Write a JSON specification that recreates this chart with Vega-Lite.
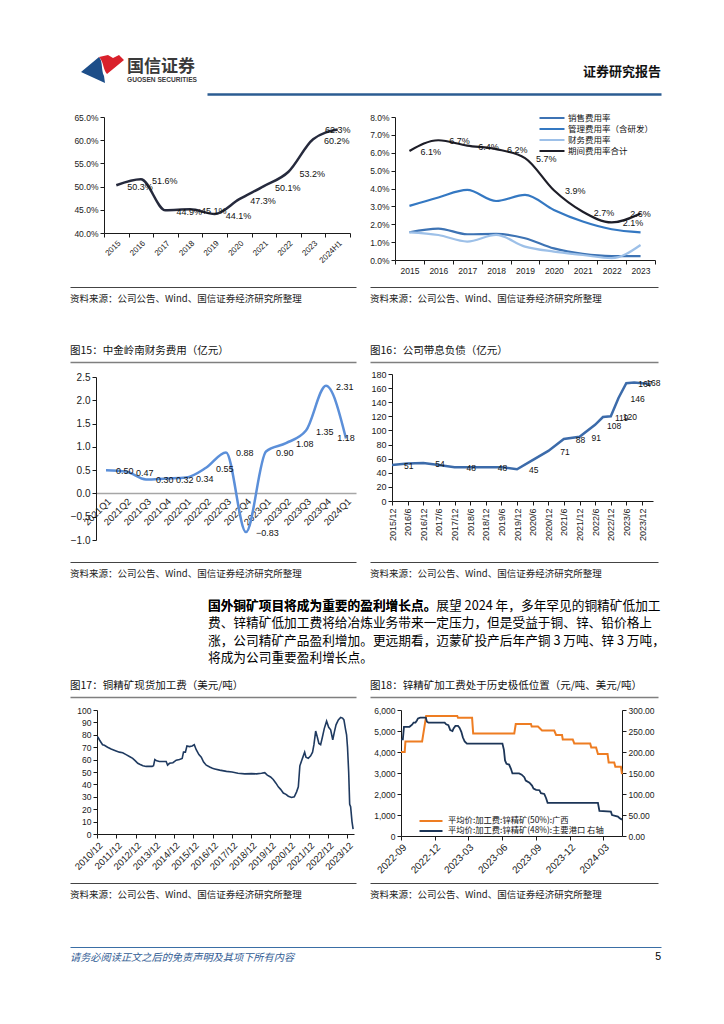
{
"$schema":"https://vega.github.io/schema/vega-lite/v6.json",
"background":"white",
"padding":{"left":67,"top":54,"right":8,"bottom":8},
"config":{
 "view":{"stroke":null},
 "font":"Liberation Sans",
 "axis":{"labelFont":"Liberation Sans","labelColor":"#1a1a1a","domainColor":"#1a1a1a","tickColor":"#1a1a1a","grid":false,"tickSize":4,"labelFontSize":8.5,"domainWidth":1,"labelOverlap":false,"labelFlush":false,"labelBound":false},
 "title":{"font":"Noto Sans CJK SC","fontWeight":"normal","color":"#111","frame":"group"},
 "legend":{"labelFont":"Noto Sans CJK SC"},
 "text":{"font":"Liberation Sans","color":"#111"}
},
"columns":2,
"align":"each",
"bounds":"flush",
"spacing":{"row":0,"column":14},
"resolve":{"scale":{"color":"independent","shape":"independent"},"legend":{"color":"independent","shape":"independent"}},
"concat":[
{"width":56,"height":40,
 "title":{"text":"国信证券","subtitle":"GUOSEN SECURITIES","orient":"top","anchor":"start","dx":57,"dy":32,"fontSize":17,"fontWeight":"bold","color":"#3a3a3a","subtitleFont":"Liberation Sans","subtitleFontSize":6.6,"subtitleFontWeight":"bold","subtitleColor":"#3a3a3a","subtitlePadding":1,"offset":1},
 "layer":[
  {"data":{"values":[{"p":"蓝"},{"p":"红"}]},"mark":{"type":"point","filled":true,"size":1600,"opacity":1,"strokeWidth":0},
   "encoding":{"shape":{"field":"p","type":"nominal","scale":{"domain":["蓝","红"],"range":["M-0.85,-0.1L0.05,-0.85C0.25,-0.65,0.15,-0.2,0.3,0.1L0.35,0.45Z","M0.05,-0.85L0.5,-0.95L0.75,-0.8L1.05,-0.95L1.3,-0.7L0.45,0C0.25,-0.2,0.3,-0.6,0.05,-0.85Z"]},"legend":null},
    "color":{"field":"p","type":"nominal","scale":{"domain":["蓝","红"],"range":["#1D4E89","#D9212C"]},"legend":null}}},
  {"data":{"values":[{"v":0}]},"mark":{"type":"point","opacity":0},
   "encoding":{"x":{"field":"v","type":"quantitative","scale":{"domain":[0,1],"range":[137,591]},"axis":{"title":null,"labels":false,"ticks":false,"domainColor":"#2B5C92","domainWidth":2.5}}}}
 ]},
{"width":291,"height":40,"data":{"values":[]},"mark":"point",
 "title":{"text":"证券研究报告","orient":"top","anchor":"end","dy":28,"fontSize":13,"fontWeight":"bold","color":"#111","offset":3}},

{"width":1,"height":23,"data":{"values":[]},"mark":"point"},
{"width":1,"height":23,"data":{"values":[]},"mark":"point"},

{"width":280,"height":116,
 "data":{"values":[{"year":"2015","v":0.503},{"year":"2016","v":0.516},{"year":"2017","v":0.449},{"year":"2018","v":0.451},{"year":"2019","v":0.441},{"year":"2020","v":0.473},{"year":"2021","v":0.501},{"year":"2022","v":0.532},{"year":"2023","v":0.602},{"year":"2024H1","v":0.623}]},
 "encoding":{
  "x":{"field":"year","type":"ordinal","sort":null,"bandPosition":0.5,"scale":{"type":"band","paddingInner":0,"paddingOuter":0,"range":[34,280]},"axis":{"title":null,"labelAngle":-45,"tickBand":"extent","labelFontSize":8,"labelPadding":2}},
  "y":{"field":"v","type":"quantitative","scale":{"domain":[0.4,0.65],"nice":false,"zero":false},"axis":{"title":null,"offset":-34,"values":[0.4,0.45,0.5,0.55,0.6,0.65],"format":".1%","labelFontSize":8.5}}},
 "layer":[
  {"mark":{"type":"line","interpolate":"monotone","color":"#262A3D","strokeWidth":2.5}},
  {"transform":[{"filter":"datum.year != '2024H1'"}],"mark":{"type":"text","align":"left","dx":11,"dy":2,"fontSize":9},"encoding":{"text":{"field":"v","format":".1%"}}},
  {"transform":[{"filter":"datum.year == '2024H1'"}],"mark":{"type":"text","align":"center","fontSize":9},"encoding":{"text":{"field":"v","format":".1%"}}}
 ]},
{"width":285,"height":143,
 "data":{"values":[
  {"year":"2015","s":"销售费用率","v":0.0155},{"year":"2015","s":"管理费用率（含研发）","v":0.0303},{"year":"2015","s":"财务费用率","v":0.0155},{"year":"2015","s":"期间费用率合计","v":0.061},
  {"year":"2016","s":"销售费用率","v":0.0176},{"year":"2016","s":"管理费用率（含研发）","v":0.035},{"year":"2016","s":"财务费用率","v":0.014},{"year":"2016","s":"期间费用率合计","v":0.067},
  {"year":"2017","s":"销售费用率","v":0.0144},{"year":"2017","s":"管理费用率（含研发）","v":0.0392},{"year":"2017","s":"财务费用率","v":0.0103},{"year":"2017","s":"期间费用率合计","v":0.064},
  {"year":"2018","s":"销售费用率","v":0.0146},{"year":"2018","s":"管理费用率（含研发）","v":0.033},{"year":"2018","s":"财务费用率","v":0.014},{"year":"2018","s":"期间费用率合计","v":0.062},
  {"year":"2019","s":"销售费用率","v":0.0122},{"year":"2019","s":"管理费用率（含研发）","v":0.0364},{"year":"2019","s":"财务费用率","v":0.0075},{"year":"2019","s":"期间费用率合计","v":0.057},
  {"year":"2020","s":"销售费用率","v":0.0065},{"year":"2020","s":"管理费用率（含研发）","v":0.028},{"year":"2020","s":"财务费用率","v":0.0047},{"year":"2020","s":"期间费用率合计","v":0.039},
  {"year":"2021","s":"销售费用率","v":0.0034},{"year":"2021","s":"管理费用率（含研发）","v":0.0215},{"year":"2021","s":"财务费用率","v":0.0028},{"year":"2021","s":"期间费用率合计","v":0.027},
  {"year":"2022","s":"销售费用率","v":0.0022},{"year":"2022","s":"管理费用率（含研发）","v":0.0172},{"year":"2022","s":"财务费用率","v":0.001},{"year":"2022","s":"期间费用率合计","v":0.021},
  {"year":"2023","s":"销售费用率","v":0.0022},{"year":"2023","s":"管理费用率（含研发）","v":0.0155},{"year":"2023","s":"财务费用率","v":0.0084},{"year":"2023","s":"期间费用率合计","v":0.026}]},
 "encoding":{
  "x":{"field":"year","type":"ordinal","sort":null,"bandPosition":0.5,"scale":{"type":"band","paddingInner":0,"paddingOuter":0,"range":[25,285]},"axis":{"title":null,"labelAngle":0,"tickBand":"extent","labelFontSize":8.5}},
  "y":{"field":"v","type":"quantitative","scale":{"domain":[0,0.08],"nice":false},"axis":{"title":null,"offset":-25,"values":[0,0.01,0.02,0.03,0.04,0.05,0.06,0.07,0.08],"format":".1%","labelFontSize":8.5}}},
 "layer":[
  {"mark":{"type":"line","interpolate":"monotone","strokeWidth":2.2},
   "encoding":{"color":{"field":"s","type":"nominal","scale":{"domain":["销售费用率","管理费用率（含研发）","财务费用率","期间费用率合计"],"range":["#3D73B4","#3478C2","#9DC0E8","#1E1E28"]},
    "legend":{"title":null,"orient":"none","legendX":176,"legendY":-5,"symbolType":"M-2.5,0L2.5,0","symbolSize":100,"symbolStrokeWidth":2,"labelFontSize":8.5,"labelOffset":10,"rowPadding":0,"padding":0,"labelColor":"#111"}}}},
  {"transform":[{"filter":"datum.s == '期间费用率合计' && datum.year != '2023'"}],"mark":{"type":"text","align":"left","dx":11,"dy":1,"fontSize":9},"encoding":{"text":{"field":"v","format":".1%"}}},
  {"transform":[{"filter":"datum.s == '期间费用率合计' && datum.year == '2023'"}],"mark":{"type":"text","align":"center","fontSize":9},"encoding":{"text":{"field":"v","format":".1%"}}}
 ]},

{"width":1,"height":27,"data":{"values":[]},"mark":"point"},
{"width":1,"height":27,"data":{"values":[]},"mark":"point"},

{"width":286,"height":1,"data":{"values":[{"v":0}]},"mark":{"type":"point","opacity":0},"encoding":{"x":{"field":"v","type":"quantitative","scale":{"domain":[0,1]},"axis":{"orient":"top","title":null,"labels":false,"ticks":false,"domainColor":"#444","domainWidth":1}}},"title":{"text":"资料来源：公司公告、Wind、国信证券经济研究所整理","orient":"bottom","anchor":"start","fontSize":9.5,"color":"#222","offset":4}},
{"width":288,"height":1,"data":{"values":[{"v":0}]},"mark":{"type":"point","opacity":0},"encoding":{"x":{"field":"v","type":"quantitative","scale":{"domain":[0,1]},"axis":{"orient":"top","title":null,"labels":false,"ticks":false,"domainColor":"#444","domainWidth":1}}},"title":{"text":"资料来源：公司公告、Wind、国信证券经济研究所整理","orient":"bottom","anchor":"start","fontSize":9.5,"color":"#222","offset":4}},

{"width":1,"height":74,"data":{"values":[]},"mark":"point"},
{"width":1,"height":74,"data":{"values":[]},"mark":"point"},

{"width":286,"height":1,"data":{"values":[{"v":0}]},"mark":{"type":"point","opacity":0},"encoding":{"x":{"field":"v","type":"quantitative","scale":{"domain":[0,1]},"axis":{"orient":"top","title":null,"labels":false,"ticks":false,"domainColor":"#7F7F7F","domainWidth":1.5}}},"title":{"text":"图15：中金岭南财务费用（亿元）","orient":"top","anchor":"start","fontSize":10.5,"offset":3}},
{"width":288,"height":1,"data":{"values":[{"v":0}]},"mark":{"type":"point","opacity":0},"encoding":{"x":{"field":"v","type":"quantitative","scale":{"domain":[0,1]},"axis":{"orient":"top","title":null,"labels":false,"ticks":false,"domainColor":"#7F7F7F","domainWidth":1.5}}},"title":{"text":"图16：公司带息负债（亿元）","orient":"top","anchor":"start","fontSize":10.5,"offset":3}},

{"width":1,"height":11,"data":{"values":[]},"mark":"point"},
{"width":1,"height":11,"data":{"values":[]},"mark":"point"},

{"width":286,"height":166,
 "data":{"values":[{"q":"2021Q1","v":0.5},{"q":"2021Q2","v":0.47},{"q":"2021Q3","v":0.3},{"q":"2021Q4","v":0.32},{"q":"2022Q1","v":0.34},{"q":"2022Q2","v":0.55},{"q":"2022Q3","v":0.88},{"q":"2022Q4","v":-0.83},{"q":"2023Q1","v":0.9},{"q":"2023Q2","v":1.08},{"q":"2023Q3","v":1.35},{"q":"2023Q4","v":2.31},{"q":"2024Q1","v":1.18}]},
 "encoding":{
  "x":{"field":"q","type":"ordinal","sort":null,"bandPosition":0.5,"scale":{"type":"band","paddingInner":0,"paddingOuter":0,"range":[26,286]},"axis":{"title":null,"labelAngle":-45,"offset":-47,"ticks":false,"domainColor":"#A6A6A6","domainWidth":1.5,"labelFontSize":9.5,"labelPadding":3}},
  "y":{"field":"v","type":"quantitative","scale":{"domain":[-1,2.5],"nice":false,"zero":false,"range":[166,3]},"axis":{"title":null,"offset":-26,"values":[-1,-0.5,0,0.5,1,1.5,2,2.5],"format":".1f","labelFontSize":10}}},
 "layer":[
  {"mark":{"type":"line","interpolate":"monotone","color":"#5B8FD9","strokeWidth":2.5}},
  {"transform":[{"filter":"datum.q != '2024Q1'"}],"mark":{"type":"text","align":"left","dx":10,"dy":1,"fontSize":9},"encoding":{"text":{"field":"v","format":".2f"}}},
  {"transform":[{"filter":"datum.q == '2024Q1'"}],"mark":{"type":"text","align":"center","fontSize":9},"encoding":{"text":{"field":"v","format":".2f"}}}
 ]},
{"width":283,"height":127,
 "data":{"values":[
  {"d":"2015-12-31","v":51,"lab":true},{"d":"2016-06-30","v":53,"lab":false},{"d":"2016-12-31","v":54,"lab":true},{"d":"2017-06-30","v":51,"lab":false},
  {"d":"2017-12-31","v":48,"lab":true},{"d":"2018-06-30","v":48,"lab":false},{"d":"2018-12-31","v":48,"lab":true},{"d":"2019-06-30","v":48,"lab":false},
  {"d":"2019-12-31","v":45,"lab":true},{"d":"2020-06-30","v":58,"lab":false},{"d":"2020-12-31","v":71,"lab":true},{"d":"2021-06-30","v":88,"lab":true},
  {"d":"2021-12-31","v":91,"lab":true},{"d":"2022-06-30","v":108,"lab":true},{"d":"2022-09-30","v":119,"lab":true},{"d":"2022-12-31","v":120,"lab":true},
  {"d":"2023-03-31","v":146,"lab":true},{"d":"2023-06-30","v":167,"lab":true},{"d":"2023-09-30","v":168,"lab":true},{"d":"2023-12-31","v":167,"lab":false},
  {"d":"2024-03-31","v":166,"lab":false}]},
 "encoding":{
  "x":{"field":"d","type":"temporal","scale":{"type":"utc","range":[22,283],"domain":[{"year":2015,"month":12,"date":31,"utc":true},{"year":2024,"month":5,"date":7,"utc":true}]},
   "axis":{"title":null,"values":[{"year":2015,"month":12,"date":31,"utc":true},{"year":2016,"month":6,"date":30,"utc":true},{"year":2016,"month":12,"date":31,"utc":true},{"year":2017,"month":6,"date":30,"utc":true},{"year":2017,"month":12,"date":31,"utc":true},{"year":2018,"month":6,"date":30,"utc":true},{"year":2018,"month":12,"date":31,"utc":true},{"year":2019,"month":6,"date":30,"utc":true},{"year":2019,"month":12,"date":31,"utc":true},{"year":2020,"month":6,"date":30,"utc":true},{"year":2020,"month":12,"date":31,"utc":true},{"year":2021,"month":6,"date":30,"utc":true},{"year":2021,"month":12,"date":31,"utc":true},{"year":2022,"month":6,"date":30,"utc":true},{"year":2022,"month":12,"date":31,"utc":true},{"year":2023,"month":6,"date":30,"utc":true},{"year":2023,"month":12,"date":31,"utc":true}],
   "labelExpr":"utcFormat(datum.value, '%Y/%-m')","labelAngle":-90,"labelFontSize":9,"labelPadding":3}},
  "y":{"field":"v","type":"quantitative","scale":{"domain":[0,180],"nice":false},"axis":{"title":null,"offset":-22,"values":[0,20,40,60,80,100,120,140,160,180],"labelFontSize":9}}},
 "layer":[
  {"mark":{"type":"line","color":"#3C6BAA","strokeWidth":2.5}},
  {"transform":[{"filter":"datum.lab"}],"mark":{"type":"text","align":"left","dx":12,"dy":1,"fontSize":8.5},"encoding":{"text":{"field":"v","format":"d"}}}
 ]},

{"width":1,"height":22,"data":{"values":[]},"mark":"point"},
{"width":1,"height":22,"data":{"values":[]},"mark":"point"},

{"width":286,"height":1,"data":{"values":[{"v":0}]},"mark":{"type":"point","opacity":0},"encoding":{"x":{"field":"v","type":"quantitative","scale":{"domain":[0,1]},"axis":{"orient":"top","title":null,"labels":false,"ticks":false,"domainColor":"#444","domainWidth":1}}},"title":{"text":"资料来源：公司公告、Wind、国信证券经济研究所整理","orient":"bottom","anchor":"start","fontSize":9.5,"color":"#222","offset":4}},
{"width":288,"height":1,"data":{"values":[{"v":0}]},"mark":{"type":"point","opacity":0},"encoding":{"x":{"field":"v","type":"quantitative","scale":{"domain":[0,1]},"axis":{"orient":"top","title":null,"labels":false,"ticks":false,"domainColor":"#444","domainWidth":1}}},"title":{"text":"资料来源：公司公告、Wind、国信证券经济研究所整理","orient":"bottom","anchor":"start","fontSize":9.5,"color":"#222","offset":4}},

{"width":1,"height":104,"data":{"values":[]},"mark":"point"},
{"width":1,"height":104,"data":{"values":[]},"mark":"point"},

{"width":286,"height":1,"data":{"values":[]},"mark":"point",
 "title":{"text":"国外铜矿项目将成为重要的盈利增长点。","subtitle":["国外铜矿项目将成为重要的盈利增长点。展望 2024 年，多年罕见的铜精矿低加工","费、锌精矿低加工费将给冶炼业务带来一定压力，但是受益于铜、锌、铅价格上","涨，公司精矿产品盈利增加。更远期看，迈蒙矿投产后年产铜 3 万吨、锌 3 万吨，","将成为公司重要盈利增长点。"],
  "orient":"top","anchor":"start","dx":138,"font":"Noto Sans CJK SC","fontSize":12.7,"fontWeight":"bold","color":"#000","subtitleFont":"Noto Sans CJK SC","subtitleFontSize":12.7,"subtitleFontWeight":"normal","subtitleColor":"#000","subtitleLineHeight":17.6,"subtitlePadding":-12.7,"offset":2}},
{"width":1,"height":1,"data":{"values":[]},"mark":"point"},

{"width":1,"height":29,"data":{"values":[]},"mark":"point"},
{"width":1,"height":29,"data":{"values":[]},"mark":"point"},

{"width":286,"height":1,"data":{"values":[{"v":0}]},"mark":{"type":"point","opacity":0},"encoding":{"x":{"field":"v","type":"quantitative","scale":{"domain":[0,1]},"axis":{"orient":"top","title":null,"labels":false,"ticks":false,"domainColor":"#7F7F7F","domainWidth":1.5}}},"title":{"text":"图17：铜精矿现货加工费（美元/吨）","orient":"top","anchor":"start","fontSize":10.5,"offset":3}},
{"width":288,"height":1,"data":{"values":[{"v":0}]},"mark":{"type":"point","opacity":0},"encoding":{"x":{"field":"v","type":"quantitative","scale":{"domain":[0,1]},"axis":{"orient":"top","title":null,"labels":false,"ticks":false,"domainColor":"#7F7F7F","domainWidth":1.5}}},"title":{"text":"图18：锌精矿加工费处于历史极低位置（元/吨、美元/吨）","orient":"top","anchor":"start","fontSize":10.5,"offset":3}},

{"width":1,"height":12,"data":{"values":[]},"mark":"point"},
{"width":1,"height":12,"data":{"values":[]},"mark":"point"},

{"width":284,"height":124,
 "data":{"values":[
  {"d":"2010-12-01","v":78},{"d":"2010-12-20","v":78},{"d":"2011-01-15","v":76},{"d":"2011-02-14","v":74},{"d":"2011-03-17","v":72},{"d":"2011-04-20","v":71.5},{"d":"2011-06-20","v":70},{"d":"2011-08-25","v":68.5},{"d":"2011-11-28","v":67},
  {"d":"2012-01-30","v":66},{"d":"2012-04-01","v":65.5},{"d":"2012-06-05","v":64},{"d":"2012-08-07","v":62.5},{"d":"2012-10-08","v":61},{"d":"2012-11-28","v":59},
  {"d":"2013-01-12","v":57},{"d":"2013-02-28","v":56},{"d":"2013-04-20","v":55},{"d":"2013-06-20","v":54.5},{"d":"2013-08-22","v":54.5},{"d":"2013-10-12","v":54.5},{"d":"2013-11-07","v":55},{"d":"2013-12-02","v":60},
  {"d":"2014-01-08","v":59},{"d":"2014-02-28","v":58.5},{"d":"2014-05-05","v":58.5},{"d":"2014-07-05","v":58.5},{"d":"2014-08-01","v":55.5},{"d":"2014-09-06","v":57},{"d":"2014-11-10","v":57.5},
  {"d":"2015-01-12","v":59.5},{"d":"2015-03-15","v":60},{"d":"2015-05-05","v":61},{"d":"2015-05-30","v":66},{"d":"2015-07-05","v":66},{"d":"2015-08-03","v":71},{"d":"2015-09-20","v":70.5},{"d":"2015-11-10","v":71},{"d":"2015-12-20","v":72},
  {"d":"2016-01-26","v":68},{"d":"2016-03-17","v":64},{"d":"2016-05-01","v":62},{"d":"2016-06-14","v":58},{"d":"2016-08-04","v":55.5},{"d":"2016-10-08","v":54},{"d":"2016-11-28","v":53},
  {"d":"2017-01-12","v":52.5},{"d":"2017-04-16","v":51.5},{"d":"2017-08-22","v":50.5},{"d":"2017-12-05","v":50},
  {"d":"2018-03-28","v":49},{"d":"2018-08-04","v":48.5},{"d":"2018-12-10","v":48.7},
  {"d":"2019-03-14","v":48.5},{"d":"2019-06-17","v":49},{"d":"2019-08-18","v":49.5},{"d":"2019-10-05","v":47.5},{"d":"2019-12-06","v":46},
  {"d":"2020-01-26","v":44},{"d":"2020-03-17","v":41},{"d":"2020-05-01","v":38},{"d":"2020-06-14","v":36},{"d":"2020-08-04","v":33},{"d":"2020-09-24","v":32},{"d":"2020-11-07","v":30.5},
  {"d":"2021-01-08","v":29.5},{"d":"2021-02-28","v":30},{"d":"2021-04-13","v":34},{"d":"2021-05-16","v":38},{"d":"2021-06-14","v":55},{"d":"2021-07-17","v":59},{"d":"2021-08-19","v":63},{"d":"2021-09-13","v":66},{"d":"2021-10-08","v":62},{"d":"2021-11-21","v":61},
  {"d":"2022-01-05","v":63},{"d":"2022-02-10","v":66},{"d":"2022-03-08","v":72},{"d":"2022-04-10","v":83},{"d":"2022-05-12","v":78},{"d":"2022-06-10","v":73},{"d":"2022-07-13","v":72},{"d":"2022-08-15","v":78},{"d":"2022-09-20","v":85},{"d":"2022-11-03","v":91},{"d":"2022-12-13","v":86},
  {"d":"2023-01-19","v":84},{"d":"2023-02-28","v":76},{"d":"2023-03-29","v":82},{"d":"2023-05-01","v":88},{"d":"2023-06-14","v":92},{"d":"2023-07-28","v":94},{"d":"2023-09-02","v":93.5},{"d":"2023-09-28","v":92},{"d":"2023-10-30","v":84},{"d":"2023-11-17","v":80},{"d":"2023-12-05","v":70},{"d":"2023-12-27","v":50},
  {"d":"2024-01-15","v":24},{"d":"2024-02-02","v":22},{"d":"2024-02-28","v":10},{"d":"2024-03-20","v":4}]},
 "mark":{"type":"line","color":"#1F3A60","strokeWidth":1.6},
 "encoding":{
  "x":{"field":"d","type":"temporal","scale":{"type":"utc","range":[27,284],"domain":[{"year":2010,"month":12,"date":1,"utc":true},{"year":2024,"month":4,"date":6,"utc":true}]},
   "axis":{"title":null,"values":[{"year":2010,"month":12,"date":1,"utc":true},{"year":2011,"month":12,"date":1,"utc":true},{"year":2012,"month":12,"date":1,"utc":true},{"year":2013,"month":12,"date":1,"utc":true},{"year":2014,"month":12,"date":1,"utc":true},{"year":2015,"month":12,"date":1,"utc":true},{"year":2016,"month":12,"date":1,"utc":true},{"year":2017,"month":12,"date":1,"utc":true},{"year":2018,"month":12,"date":1,"utc":true},{"year":2019,"month":12,"date":1,"utc":true},{"year":2020,"month":12,"date":1,"utc":true},{"year":2021,"month":12,"date":1,"utc":true},{"year":2022,"month":12,"date":1,"utc":true},{"year":2023,"month":12,"date":1,"utc":true}],
   "labelExpr":"utcFormat(datum.value, '%Y/%m')","labelAngle":-45,"labelFontSize":9.5}},
  "y":{"field":"v","type":"quantitative","scale":{"domain":[0,100],"nice":false},"axis":{"title":null,"offset":-27,"values":[0,10,20,30,40,50,60,70,80,90,100],"labelFontSize":8.5}}}},
{"width":252,"height":126,
 "layer":[
  {"data":{"values":[
   {"d":"2022-09-01","v":4000},{"d":"2022-09-11","v":4000},{"d":"2022-09-13","v":4500},{"d":"2022-10-28","v":4500},{"d":"2022-11-08","v":5720},{"d":"2023-01-31","v":5720},
   {"d":"2023-02-02","v":5630},{"d":"2023-03-12","v":5630},{"d":"2023-03-15","v":4880},{"d":"2023-07-04","v":4880},{"d":"2023-07-08","v":5330},{"d":"2023-08-18","v":5330},
   {"d":"2023-08-20","v":5210},{"d":"2023-09-06","v":5210},{"d":"2023-09-17","v":5020},{"d":"2023-10-20","v":5020},{"d":"2023-10-25","v":4810},{"d":"2023-11-10","v":4810},
   {"d":"2023-11-12","v":4600},{"d":"2023-12-09","v":4600},{"d":"2023-12-13","v":4410},{"d":"2024-01-25","v":4410},{"d":"2024-01-28","v":4220},{"d":"2024-02-10","v":4220},
   {"d":"2024-02-15","v":3900},{"d":"2024-03-12","v":3900},{"d":"2024-03-15","v":3500},{"d":"2024-03-30","v":3500},{"d":"2024-04-02","v":3300},{"d":"2024-04-17","v":3300},{"d":"2024-04-20","v":2950}]},
   "mark":{"type":"line","strokeWidth":2},
   "encoding":{
    "x":{"field":"d","type":"temporal","scale":{"type":"utc","range":[31,252],"domain":[{"year":2022,"month":9,"date":1,"utc":true},{"year":2024,"month":4,"date":20,"utc":true}]},
     "axis":{"title":null,"values":[{"year":2022,"month":9,"date":1,"utc":true},{"year":2022,"month":12,"date":1,"utc":true},{"year":2023,"month":3,"date":1,"utc":true},{"year":2023,"month":6,"date":1,"utc":true},{"year":2023,"month":9,"date":1,"utc":true},{"year":2023,"month":12,"date":1,"utc":true},{"year":2024,"month":3,"date":1,"utc":true}],
     "labelExpr":"utcFormat(datum.value, '%Y-%m')","labelAngle":-45,"labelFontSize":10}},
    "y":{"field":"v","type":"quantitative","scale":{"domain":[0,6000],"nice":false},"axis":{"title":null,"orient":"left","offset":-31,"values":[0,1000,2000,3000,4000,5000,6000],"format":",.0f","labelFontSize":8.5}},
    "color":{"datum":"平均价:加工费:锌精矿(50%):广西","type":"nominal","scale":{"domain":["平均价:加工费:锌精矿(50%):广西","平均价:加工费:锌精矿(48%):主要港口 右轴"],"range":["#EE7D22","#1C3557"]},
     "legend":{"title":null,"orient":"none","legendX":55,"legendY":105,"symbolType":"M-2.3,0L2.3,0","symbolSize":100,"symbolStrokeWidth":2,"labelFontSize":8.3,"labelOffset":11,"rowPadding":0,"padding":0,"labelColor":"#111"}}}},
  {"data":{"values":[
   {"d":"2022-09-01","v":230},{"d":"2022-09-06","v":230},{"d":"2022-09-09","v":260},{"d":"2022-09-24","v":260},{"d":"2022-10-01","v":265},{"d":"2022-10-05","v":270},{"d":"2022-10-10","v":270},
   {"d":"2022-10-14","v":275},{"d":"2022-10-17","v":280},{"d":"2022-10-23","v":282},{"d":"2022-11-07","v":282},{"d":"2022-11-10","v":272},{"d":"2022-11-14","v":270},{"d":"2022-12-28","v":270},
   {"d":"2023-01-01","v":266},{"d":"2023-01-07","v":264},{"d":"2023-01-12","v":252},{"d":"2023-01-18","v":250},{"d":"2023-01-21","v":256},{"d":"2023-01-26","v":262},{"d":"2023-02-02","v":262},
   {"d":"2023-02-06","v":258},{"d":"2023-02-11","v":248},{"d":"2023-02-15","v":235},{"d":"2023-02-20","v":225},{"d":"2023-02-26","v":220},{"d":"2023-06-02","v":220},{"d":"2023-06-06","v":205},
   {"d":"2023-06-09","v":180},{"d":"2023-06-13","v":172},{"d":"2023-06-20","v":170},{"d":"2023-06-25","v":160},{"d":"2023-06-29","v":149},{"d":"2023-07-17","v":149},{"d":"2023-07-24","v":146},
   {"d":"2023-07-31","v":140},{"d":"2023-08-04","v":132},{"d":"2023-08-14","v":127},{"d":"2023-08-21","v":120},{"d":"2023-08-25","v":113},{"d":"2023-09-01","v":110},{"d":"2023-09-10","v":109},
   {"d":"2023-09-14","v":102},{"d":"2023-09-23","v":100},{"d":"2023-09-28","v":90},{"d":"2023-10-02","v":79},{"d":"2024-02-15","v":79},{"d":"2024-02-19","v":60},{"d":"2024-03-21","v":58},
   {"d":"2024-03-24","v":50},{"d":"2024-04-09","v":46},{"d":"2024-04-13","v":43},{"d":"2024-04-20","v":39}]},
   "mark":{"type":"line","strokeWidth":1.8},
   "encoding":{
    "x":{"field":"d","type":"temporal"},
    "y":{"field":"v","type":"quantitative","scale":{"domain":[0,300],"nice":false},"axis":{"title":null,"orient":"right","values":[0,50,100,150,200,250,300],"format":".2f","labelFontSize":8.5}},
    "color":{"datum":"平均价:加工费:锌精矿(48%):主要港口 右轴","type":"nominal"}}}
 ],
 "resolve":{"scale":{"y":"independent"}}},

{"width":1,"height":47,"data":{"values":[]},"mark":"point"},
{"width":1,"height":47,"data":{"values":[]},"mark":"point"},

{"width":286,"height":1,"data":{"values":[{"v":0}]},"mark":{"type":"point","opacity":0},"encoding":{"x":{"field":"v","type":"quantitative","scale":{"domain":[0,1]},"axis":{"orient":"top","title":null,"labels":false,"ticks":false,"domainColor":"#444","domainWidth":1}}},"title":{"text":"资料来源：公司公告、Wind、国信证券经济研究所整理","orient":"bottom","anchor":"start","fontSize":9.5,"color":"#222","offset":4}},
{"width":288,"height":1,"data":{"values":[{"v":0}]},"mark":{"type":"point","opacity":0},"encoding":{"x":{"field":"v","type":"quantitative","scale":{"domain":[0,1]},"axis":{"orient":"top","title":null,"labels":false,"ticks":false,"domainColor":"#444","domainWidth":1}}},"title":{"text":"资料来源：公司公告、Wind、国信证券经济研究所整理","orient":"bottom","anchor":"start","fontSize":9.5,"color":"#222","offset":4}},

{"width":1,"height":63,"data":{"values":[]},"mark":"point"},
{"width":1,"height":63,"data":{"values":[]},"mark":"point"},

{"width":286,"height":1,"data":{"values":[{"v":0}]},"mark":{"type":"point","opacity":0},"encoding":{"x":{"field":"v","type":"quantitative","scale":{"domain":[0,1],"range":[0,591]},"axis":{"orient":"top","title":null,"labels":false,"ticks":false,"domainColor":"#3A6EA5","domainWidth":1.2}}},"title":{"text":"请务必阅读正文之后的免责声明及其项下所有内容","orient":"bottom","anchor":"start","fontSize":10.2,"fontStyle":"italic","color":"#2F5B93","offset":3}},
{"width":291,"height":1,"data":{"values":[]},"mark":"point","title":{"text":"5","orient":"bottom","anchor":"end","font":"Liberation Sans","fontSize":10.5,"color":"#000","offset":4}}
]
}
